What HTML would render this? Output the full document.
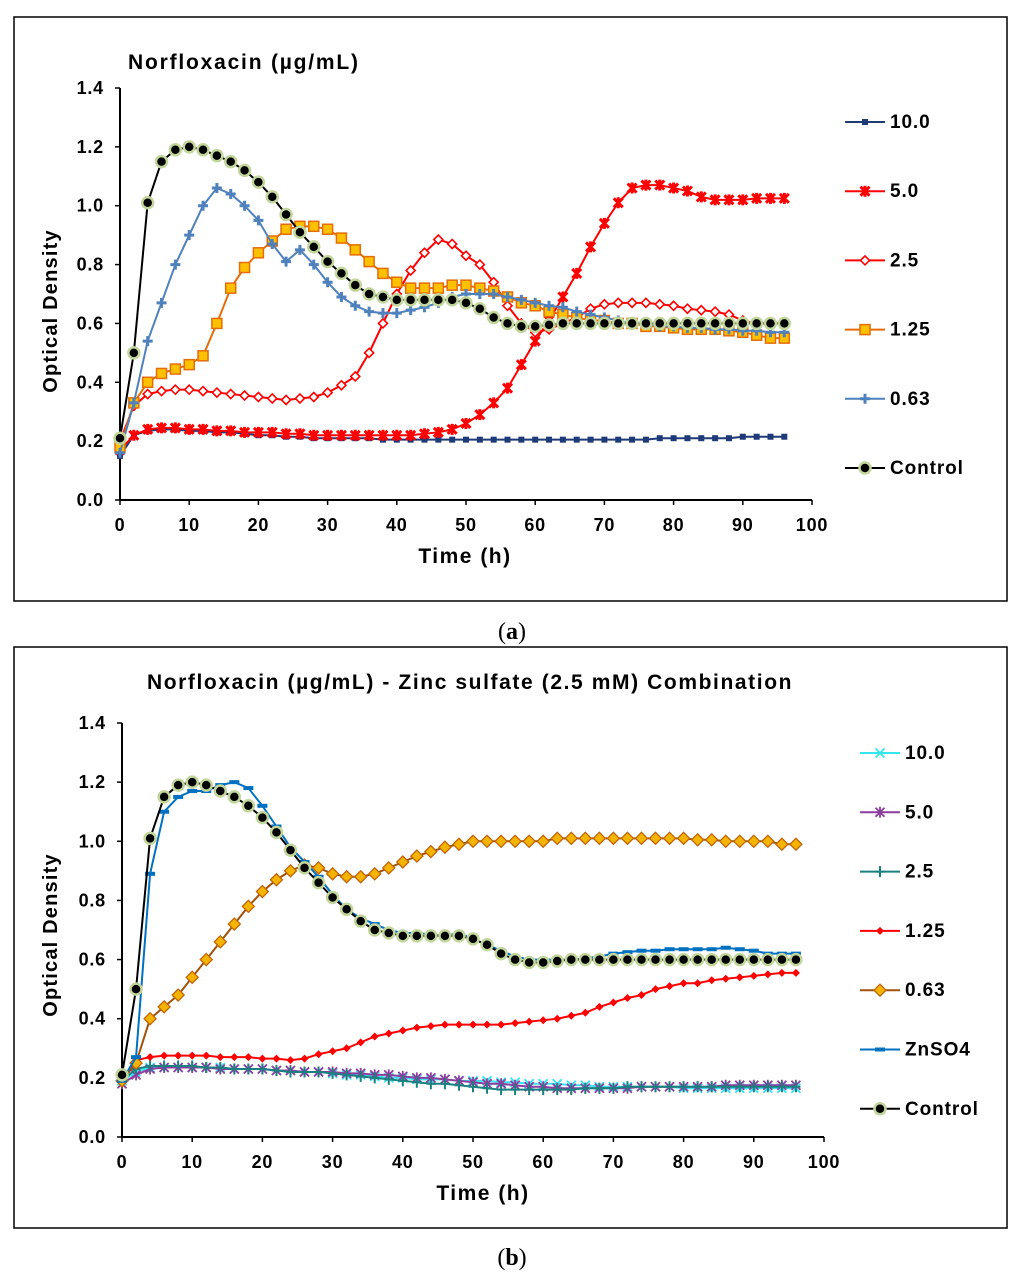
<!DOCTYPE html>
<html><head><meta charset="utf-8"><style>
html,body{margin:0;padding:0;background:#fff;}
svg{display:block;font-family:"Liberation Sans",Arial,sans-serif;}
</style></head><body>
<svg id="fig" width="1024" height="1282" viewBox="0 0 1024 1282" xmlns="http://www.w3.org/2000/svg">
<rect x="14" y="17" width="993" height="584" fill="#fff" stroke="#000" stroke-width="1.5"/>
<rect x="14" y="647" width="993" height="581" fill="#fff" stroke="#000" stroke-width="1.5"/>
<text x="512" y="639" text-anchor="middle" font-family="Liberation Serif,serif" font-size="24">(<tspan font-weight="bold">a</tspan>)</text>
<text x="512" y="1265" text-anchor="middle" font-family="Liberation Serif,serif" font-size="24">(<tspan font-weight="bold">b</tspan>)</text>
<text x="128" y="69" font-size="21" font-weight="bold" letter-spacing="1.8">Norfloxacin (µg/mL)</text>
<text x="470" y="689" text-anchor="middle" font-size="21" font-weight="bold" letter-spacing="1.6">Norfloxacin (µg/mL) - Zinc sulfate (2.5 mM) Combination</text>
<g id="ca"></g><g id="cb"></g>
</svg>
<script>
const times=[0,2,4,6,8,10,12,14,16,18,20,22,24,26,28,30,32,34,36,38,40,42,44,46,48,50,52,54,56,58,60,62,64,66,68,70,72,74,76,78,80,82,84,86,88,90,92,94,96];
const xTicks=[0,10,20,30,40,50,60,70,80,90,100];
const yTicks=[0.0,0.2,0.4,0.6,0.8,1.0,1.2,1.4];
const yTickLabels=["0.0","0.2","0.4","0.6","0.8","1.0","1.2","1.4"];
const control=[0.21,0.50,1.01,1.15,1.19,1.20,1.19,1.17,1.15,1.12,1.08,1.03,0.97,0.91,0.86,0.81,0.77,0.73,0.70,0.69,0.68,0.68,0.68,0.68,0.68,0.67,0.65,0.62,0.60,0.59,0.59,0.595,0.60,0.60,0.60,0.60,0.60,0.60,0.60,0.60,0.60,0.60,0.60,0.60,0.60,0.60,0.60,0.60,0.60];
const a063=[0.16,0.33,0.54,0.67,0.80,0.90,1.00,1.06,1.04,1.00,0.95,0.87,0.81,0.85,0.80,0.74,0.69,0.66,0.64,0.635,0.635,0.645,0.655,0.67,0.69,0.70,0.70,0.70,0.69,0.68,0.67,0.66,0.655,0.64,0.63,0.62,0.61,0.60,0.60,0.59,0.59,0.585,0.585,0.58,0.58,0.575,0.575,0.57,0.57];
const a125=[0.18,0.33,0.40,0.43,0.445,0.46,0.49,0.60,0.72,0.79,0.84,0.88,0.92,0.93,0.93,0.92,0.89,0.85,0.81,0.77,0.74,0.72,0.72,0.72,0.73,0.73,0.72,0.71,0.69,0.67,0.66,0.64,0.63,0.62,0.61,0.61,0.60,0.60,0.59,0.59,0.585,0.58,0.58,0.58,0.575,0.57,0.56,0.55,0.55];
const a25=[0.20,0.32,0.36,0.37,0.375,0.375,0.37,0.365,0.36,0.355,0.35,0.345,0.34,0.345,0.35,0.365,0.39,0.42,0.50,0.60,0.70,0.78,0.84,0.885,0.87,0.83,0.80,0.74,0.66,0.60,0.57,0.58,0.60,0.62,0.65,0.665,0.67,0.67,0.67,0.665,0.66,0.65,0.645,0.64,0.63,0.61,0.60,0.60,0.60];
const a50=[0.17,0.22,0.24,0.245,0.245,0.24,0.24,0.235,0.235,0.23,0.23,0.23,0.225,0.225,0.22,0.22,0.22,0.22,0.22,0.22,0.22,0.22,0.225,0.23,0.24,0.26,0.29,0.33,0.38,0.46,0.54,0.61,0.69,0.77,0.86,0.94,1.01,1.06,1.07,1.07,1.06,1.05,1.03,1.02,1.02,1.02,1.025,1.025,1.025];
const a100=[0.15,0.22,0.235,0.24,0.24,0.235,0.235,0.23,0.23,0.225,0.22,0.22,0.215,0.215,0.21,0.21,0.21,0.21,0.21,0.205,0.205,0.205,0.205,0.205,0.205,0.205,0.205,0.205,0.205,0.205,0.205,0.205,0.205,0.205,0.205,0.205,0.205,0.205,0.205,0.21,0.21,0.21,0.21,0.21,0.21,0.215,0.215,0.215,0.215];
const bZn=[0.19,0.27,0.89,1.10,1.15,1.17,1.17,1.19,1.20,1.18,1.12,1.05,0.98,0.93,0.88,0.82,0.77,0.74,0.72,0.70,0.69,0.69,0.685,0.68,0.69,0.67,0.65,0.63,0.61,0.60,0.60,0.60,0.60,0.605,0.61,0.62,0.625,0.63,0.63,0.635,0.635,0.635,0.635,0.64,0.635,0.63,0.62,0.62,0.62];
const b063=[0.19,0.25,0.40,0.44,0.48,0.54,0.60,0.66,0.72,0.78,0.83,0.87,0.90,0.92,0.91,0.89,0.88,0.88,0.89,0.91,0.93,0.95,0.965,0.98,0.99,1.00,1.00,1.00,1.00,1.00,1.00,1.01,1.01,1.01,1.01,1.01,1.01,1.01,1.01,1.01,1.01,1.005,1.005,1.00,1.00,1.00,1.00,0.99,0.99];
const b125=[0.19,0.26,0.27,0.275,0.275,0.275,0.275,0.27,0.27,0.27,0.265,0.265,0.26,0.265,0.28,0.29,0.30,0.32,0.34,0.35,0.36,0.37,0.375,0.38,0.38,0.38,0.38,0.38,0.385,0.39,0.395,0.40,0.41,0.42,0.44,0.455,0.47,0.48,0.50,0.51,0.52,0.52,0.53,0.535,0.54,0.545,0.55,0.555,0.555];
const b100=[0.19,0.22,0.235,0.235,0.235,0.235,0.235,0.235,0.23,0.23,0.23,0.225,0.225,0.22,0.22,0.215,0.21,0.21,0.205,0.2,0.2,0.195,0.195,0.195,0.19,0.19,0.19,0.185,0.185,0.18,0.18,0.18,0.175,0.175,0.17,0.17,0.17,0.17,0.17,0.17,0.165,0.165,0.165,0.165,0.165,0.165,0.165,0.165,0.165];
const b50=[0.18,0.21,0.23,0.235,0.235,0.235,0.235,0.23,0.23,0.23,0.23,0.225,0.225,0.22,0.22,0.22,0.215,0.215,0.21,0.21,0.205,0.2,0.2,0.195,0.19,0.185,0.18,0.18,0.175,0.17,0.17,0.165,0.165,0.165,0.165,0.165,0.165,0.17,0.17,0.17,0.17,0.17,0.17,0.175,0.175,0.175,0.175,0.175,0.175];
const b25=[0.19,0.23,0.24,0.24,0.24,0.24,0.235,0.235,0.23,0.23,0.23,0.225,0.22,0.22,0.22,0.215,0.21,0.205,0.2,0.195,0.19,0.185,0.18,0.18,0.175,0.17,0.165,0.16,0.16,0.16,0.16,0.16,0.16,0.165,0.165,0.165,0.17,0.17,0.17,0.17,0.17,0.17,0.17,0.17,0.17,0.17,0.17,0.17,0.17];

const NS="http://www.w3.org/2000/svg";
function mk(tag,parent,attrs){const e=document.createElementNS(NS,tag);for(const k in attrs)e.setAttribute(k,attrs[k]);parent.appendChild(e);return e;}

function marker(g,type,x,y,s){
  let e;
  if(type==='circle'){e=mk('circle',g,{cx:x,cy:y,r:5.5,fill:'#000',stroke:'#C3D69B','stroke-width':2.5});}
  else if(type==='sqsmall'){e=mk('rect',g,{x:x-3,y:y-3,width:6,height:6,fill:s.c});}
  else if(type==='sqorange'){e=mk('rect',g,{x:x-5,y:y-5,width:10,height:10,fill:'#FFC000',stroke:'#E46C0A','stroke-width':1.5});}
  else if(type==='star'){e=mk('path',g,{d:`M${x-4.5} ${y-4.5}L${x+4.5} ${y+4.5}M${x-4.5} ${y+4.5}L${x+4.5} ${y-4.5}M${x} ${y-5.5}L${x} ${y+5.5}`,stroke:s.c,'stroke-width':3,fill:'none'});}
  else if(type==='xcross'){e=mk('path',g,{d:`M${x-4.5} ${y-4.5}L${x+4.5} ${y+4.5}M${x-4.5} ${y+4.5}L${x+4.5} ${y-4.5}`,stroke:s.c,'stroke-width':1.8,fill:'none'});}
  else if(type==='asterisk'){e=mk('path',g,{d:`M${x-4.5} ${y-4.5}L${x+4.5} ${y+4.5}M${x-4.5} ${y+4.5}L${x+4.5} ${y-4.5}M${x} ${y-5.5}L${x} ${y+5.5}`,stroke:s.c,'stroke-width':1.8,fill:'none'});}
  else if(type==='diaopen'){e=mk('path',g,{d:`M${x} ${y-4.5}L${x+4.5} ${y}L${x} ${y+4.5}L${x-4.5} ${y}Z`,stroke:s.c,'stroke-width':1.6,fill:'#fff'});}
  else if(type==='diared'){e=mk('path',g,{d:`M${x} ${y-4}L${x+4} ${y}L${x} ${y+4}L${x-4} ${y}Z`,fill:'#FF0000'});}
  else if(type==='diaorange'){e=mk('path',g,{d:`M${x} ${y-6}L${x+6} ${y}L${x} ${y+6}L${x-6} ${y}Z`,stroke:'#C0650A','stroke-width':1.3,fill:'#F5B400'});}
  else if(type==='plus'){e=mk('path',g,{d:`M${x-5} ${y}L${x+5} ${y}M${x} ${y-5}L${x} ${y+5}`,stroke:s.c,'stroke-width':3,fill:'none'});}
  else if(type==='plusthin'){e=mk('path',g,{d:`M${x-4.5} ${y}L${x+4.5} ${y}M${x} ${y-5.5}L${x} ${y+5.5}`,stroke:s.c,'stroke-width':2,fill:'none'});}
  else if(type==='dash'){e=mk('rect',g,{x:x-5,y:y-2,width:10,height:4,fill:s.c});}
  
  
}

function chart(root,geo,series,legend){
  const X=v=>geo.x0+(geo.x1-geo.x0)*v/100;
  const Y=v=>geo.y0-(geo.y0-geo.y1)*v/1.4;
  const ax=mk('g',root,{});
  
  
  mk('line',ax,{x1:geo.x0,y1:geo.y1,x2:geo.x0,y2:geo.y0,stroke:'#000','stroke-width':2});
  mk('line',ax,{x1:geo.x0,y1:geo.y0,x2:X(100),y2:geo.y0,stroke:'#000','stroke-width':2});
  yTicks.forEach((v,i)=>{
    mk('line',ax,{x1:geo.x0-5,y1:Y(v),x2:geo.x0,y2:Y(v),stroke:'#000','stroke-width':1.5});
    const t=mk('text',ax,{x:geo.x0-16,y:Y(v)+6,'text-anchor':'end','font-size':18,'font-weight':'bold','letter-spacing':0.8});t.textContent=yTickLabels[i];
    
    
  });
  xTicks.forEach(v=>{
    mk('line',ax,{x1:X(v),y1:geo.y0,x2:X(v),y2:geo.y0+5,stroke:'#000','stroke-width':1.5});
    const t=mk('text',ax,{x:X(v),y:geo.y0+31,'text-anchor':'middle','font-size':18,'font-weight':'bold','letter-spacing':0.8});t.textContent=v;
    
    
  });
  const xt=mk('text',ax,{x:geo.xtx,y:geo.y0+63,'text-anchor':'middle','font-size':21,'font-weight':'bold','letter-spacing':1.5});xt.textContent='Time (h)';
  
  
  const cy=geo.ytc;
  const yt=mk('text',ax,{x:57,y:cy,'text-anchor':'middle','font-size':20,'font-weight':'bold','letter-spacing':1.2,transform:`rotate(-90 57 ${cy})`});yt.textContent='Optical Density';
  
  
  series.forEach(s=>{
    const g=mk('g',root,{});
    
    
    const pts=s.d.map((v,i)=>X(times[i])+','+Y(v)).join(' ');
    mk('polyline',g,{points:pts,fill:'none',stroke:s.lc||s.c,'stroke-width':s.lw||2});
    s.d.forEach((v,i)=>marker(g,s.m,X(times[i]),Y(v),s));
  });
  legend.forEach((s,i)=>{
    const y=legend.y0+i*legend.dy;
    const g=mk('g',root,{});
    
    
    mk('line',g,{x1:legend.x,y1:y,x2:legend.x+40,y2:y,stroke:s.lc||s.c,'stroke-width':2});
    marker(g,s.m,legend.x+20,y,s);
    const t=mk('text',g,{x:legend.x+45,y:y+6,'font-size':19,'font-weight':'bold','letter-spacing':0.9});t.textContent=s.label;
  });
}

const sa=[
 {key:'a-10',label:'10.0',d:a100,c:'#1F3A78',m:'sqsmall'},
 {key:'a-5',label:'5.0',d:a50,c:'#FF0000',m:'star'},
 {key:'a-2-5',label:'2.5',d:a25,c:'#FF0000',m:'diaopen'},
 {key:'a-1-25',label:'1.25',d:a125,c:'#E46C0A',m:'sqorange'},
 {key:'a-0-63',label:'0.63',d:a063,c:'#4F81BD',m:'plus'},
 {key:'a-control',label:'Control',d:control,c:'#000',m:'circle'}
];
const la=sa.slice();la.x=845;la.y0=122;la.dy=69.2;
chart(document.getElementById('ca'),{id:'chart-a',x0:120,x1:812,y0:500,y1:88,xtx:465,ytc:311},sa,la);

const sb=[
 {key:'b-10',label:'10.0',d:b100,c:'#33E6F0',m:'xcross'},
 {key:'b-5',label:'5.0',d:b50,c:'#8E3C9E',m:'asterisk'},
 {key:'b-2-5',label:'2.5',d:b25,c:'#1A8080',m:'plusthin'},
 {key:'b-1-25',label:'1.25',d:b125,c:'#FF0000',m:'diared'},
 {key:'b-0-63',label:'0.63',d:b063,c:'#A0520A',m:'diaorange'},
 {key:'b-znso4',label:'ZnSO4',d:bZn,c:'#0070C0',m:'dash'},
 {key:'b-control',label:'Control',d:control,c:'#000',m:'circle'}
];
const lb=sb.slice();lb.x=860;lb.y0=753;lb.dy=59.3;
chart(document.getElementById('cb'),{id:'chart-b',x0:122,x1:824,y0:1137,y1:723,xtx:483,ytc:935},sb,lb);
</script>
</body></html>
